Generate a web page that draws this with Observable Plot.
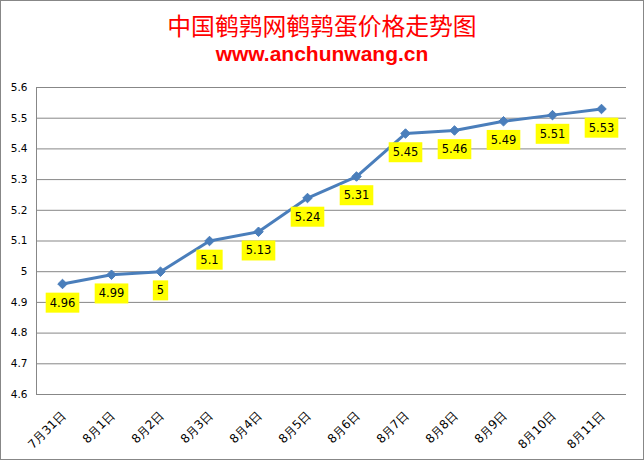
<!DOCTYPE html>
<html><head><meta charset="utf-8">
<script src="https://cdn.jsdelivr.net/npm/d3@7"></script>
<script src="https://cdn.jsdelivr.net/npm/@observablehq/plot@0.6"></script>
<style>
html,body{margin:0;padding:0;background:#fff;}
#wrap{width:642px;height:458px;border:1px solid #878787;position:relative;overflow:hidden;background:#fff;}
#title{position:absolute;left:0;top:9px;width:100%;text-align:center;color:#ff0000;font-family:"Noto Sans CJK SC",sans-serif;font-size:23.8px;line-height:30px;}
#sub{position:absolute;left:0;top:40px;width:100%;text-align:center;color:#ff0000;font-family:"Liberation Sans",sans-serif;font-weight:bold;font-size:21px;line-height:26px;}
#chart{position:absolute;left:0;top:75px;}
</style></head>
<body>
<div id="wrap">
<div id="title">中国鹌鹑网鹌鹑蛋价格走势图</div>
<div id="sub">www.anchunwang.cn</div>
<div id="chart"></div>
</div>
<script>
const dates = ["7月31日","8月1日","8月2日","8月3日","8月4日","8月5日","8月6日","8月7日","8月8日","8月9日","8月10日","8月11日"];
const prices = [4.96,4.99,5,5.1,5.13,5.24,5.31,5.45,5.46,5.49,5.51,5.53];
const yTicks = [4.6,4.7,4.8,4.9,5,5.1,5.2,5.3,5.4,5.5,5.6];

const data = dates.map((d,i)=>({date:d, price:prices[i]}));
const blue = "#4A7EBB";

const plot = Plot.plot({
  width: 642,
  height: 383,
  marginLeft: 35,
  marginRight: 17,
  marginTop: 11,
  marginBottom: 65,
  style: {fontFamily: "DejaVu Sans, sans-serif", fontSize: "10px", color: "#000", background: "#fff"},
  x: {type: "point", domain: dates, padding: 0.5},
  y: {domain: [4.6, 5.6]},
  marks: [
    Plot.ruleY(yTicks, {stroke: "#878787", strokeWidth: 1}),
    Plot.frame({anchor: "left", stroke: "#878787"}),
    Plot.axisY({ticks: yTicks, tickSize: 0, tickPadding: 9, tickFormat: d => String(+d.toFixed(1)), fontSize: 10.5, label: null}),
    Plot.axisX({tickSize: 0, tickRotate: -45, tickPadding: 19, dx: 1, fontSize: 12, label: null}),
    Plot.line(data, {x: "date", y: "price", stroke: blue, strokeWidth: 3}),
    Plot.dot(data, {x: "date", y: "price", symbol: "diamond2", r: 4.3, fill: blue, stroke: blue, strokeWidth: 1}),
    Plot.text(data, {x: "date", y: "price", text: d => String(d.price), dy: 19, fontSize: 11.5, fill: "#000", className: "vlabel"})
  ]
});
document.getElementById("chart").appendChild(plot);

// yellow boxes behind data labels
d3.select(plot).selectAll("g.vlabel text").each(function(){
  const b = this.getBBox();
  d3.select(this.parentNode).insert("rect", () => this)
    .attr("x", b.x - 4).attr("y", b.y - 3)
    .attr("width", b.width + 8).attr("height", b.height + 6)
    .attr("fill", "#ffff00")
    .attr("transform", this.getAttribute("transform"));
});
</script>
</body></html>
